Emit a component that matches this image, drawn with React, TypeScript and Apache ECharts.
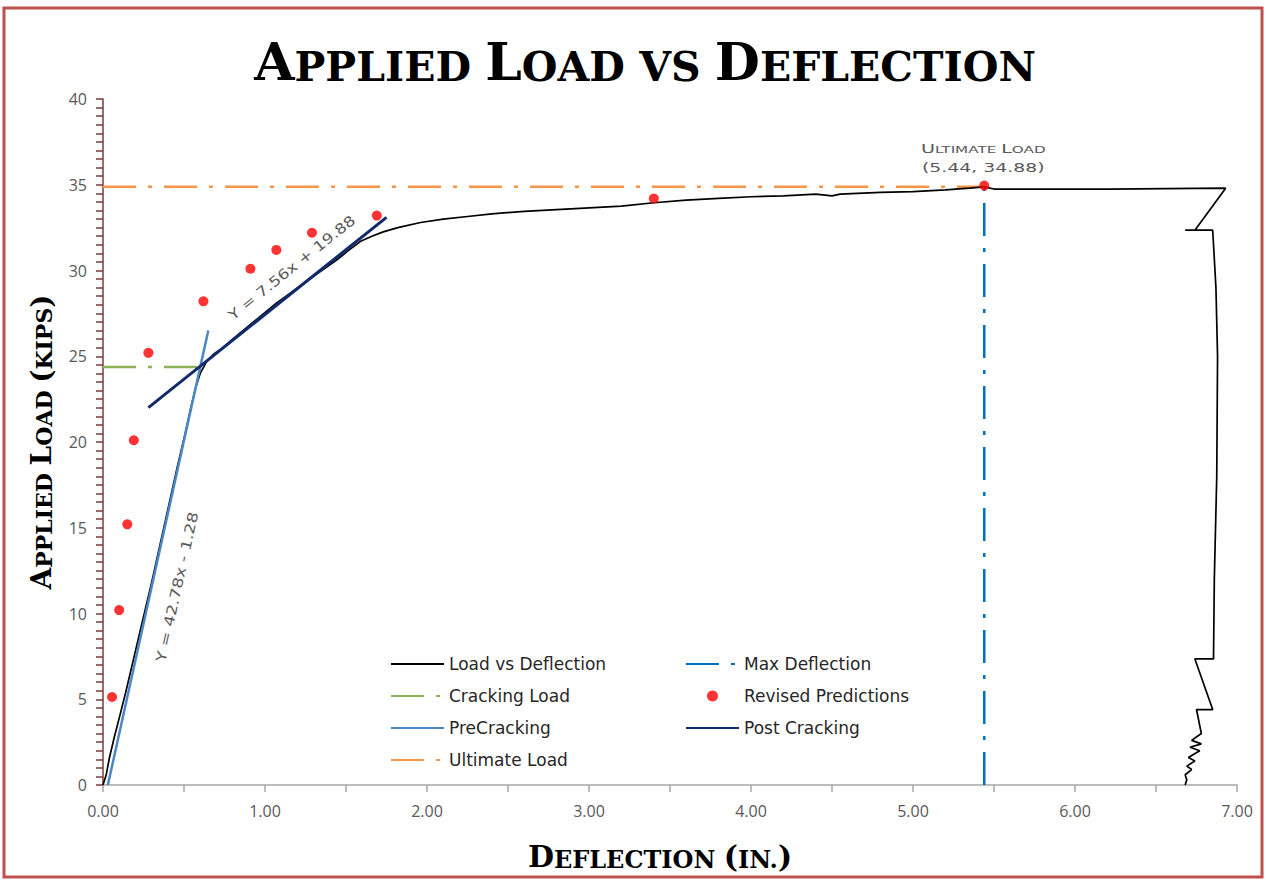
import React, { useEffect, useRef } from "react";
import * as echarts from "echarts";

// ---------- DATA ----------
const loadVsDeflection: [number, number][] = [
  [0, 0], [0.02, 0.6], [0.04, 1.6], [0.07, 2.8], [0.1, 3.9], [0.14, 5.4], [0.18, 7.0],
  [0.22, 8.6], [0.26, 10.2], [0.3, 11.8], [0.34, 13.5], [0.38, 15.2], [0.42, 16.9],
  [0.46, 18.6], [0.5, 20.2], [0.54, 21.9], [0.57, 23.1], [0.6, 24.0], [0.64, 24.7],
  [0.68, 25.1], [0.74, 25.5], [0.8, 26.0], [0.89, 26.7], [0.98, 27.4], [1.07, 28.1],
  [1.16, 28.7], [1.26, 29.4], [1.35, 30.0], [1.44, 30.6], [1.52, 31.2], [1.59, 31.7],
  [1.66, 32.0], [1.73, 32.25], [1.82, 32.5], [1.96, 32.8], [2.1, 33.0], [2.25, 33.15],
  [2.4, 33.3], [2.6, 33.45], [2.8, 33.55], [3.0, 33.65], [3.2, 33.75], [3.4, 33.95],
  [3.6, 34.1], [3.8, 34.2], [4.0, 34.3], [4.2, 34.35], [4.4, 34.45], [4.5, 34.35],
  [4.55, 34.45], [4.8, 34.55], [5.0, 34.6], [5.2, 34.7], [5.35, 34.8], [5.44, 34.88],
  [5.5, 34.75], [6.2, 34.75], [6.93, 34.8], [6.74, 32.35], [6.68, 32.35], [6.85, 32.35],
  [6.87, 29.0], [6.88, 25.0], [6.875, 18.0], [6.86, 12.0], [6.855, 7.35], [6.74, 7.35],
  [6.85, 4.4], [6.75, 4.4], [6.78, 3.0], [6.72, 2.6], [6.78, 2.4], [6.71, 2.2],
  [6.77, 2.0], [6.7, 1.6], [6.74, 1.4], [6.69, 1.1], [6.72, 0.9], [6.68, 0.6],
  [6.69, 0.3], [6.68, 0],
];

const revisedPredictions: [number, number][] = [
  [0.056, 5.13], [0.1, 10.2], [0.15, 15.2], [0.19, 20.1], [0.28, 25.2], [0.62, 28.2],
  [0.91, 30.1], [1.07, 31.2], [1.29, 32.2], [1.69, 33.2], [3.4, 34.2], [5.44, 34.95],
];

const crackingLoad: [number, number][] = [[0, 24.37], [0.58, 24.37]];
const ultimateLoad: [number, number][] = [[0, 34.88], [5.44, 34.88]];
const maxDeflection: [number, number][] = [[5.44, 0], [5.44, 34.88]];
const preCracking: [number, number][] = [[0.03, 0], [0.65, 26.5]];
const postCracking: [number, number][] = [[0.28, 22.0], [1.75, 33.1]];

const xMin = 0, xMax = 7, xStep = 1;
const yMin = 0, yMax = 40, yStep = 5;

const titleText = "Applied Load vs Deflection";
const xTitle = "Deflection (in.)";
const yTitle = "Applied Load (kips)";
const ultimateLabel = ["Ultimate Load", "(5.44, 34.88)"];
const ultimatePoint: [number, number] = [5.44, 34.88];
const eqPost = "Y = 7.56x + 19.88";
const eqPre = "Y = 42.78x - 1.28";
const eqPostPos: [number, number] = [1.167, 30.15];
const eqPrePos: [number, number] = [0.457, 11.55];

const legendLeft = ["Load vs Deflection", "Cracking Load", "PreCracking", "Ultimate Load"];
const legendRight = ["Max Deflection", "Revised Predictions", "Post Cracking"];

// ---------- HELPERS ----------
function smallCaps(t: string, b = "b", s = "s"): string {
  let out = "";
  let cur = "";
  let curType = "";
  const flush = () => {
    if (cur) out += `{${curType}|${cur}}`;
    cur = "";
  };
  for (const ch of t) {
    const isBig = (ch >= "A" && ch <= "Z") || ch === "(" || ch === ")" || (ch >= "0" && ch <= "9");
    const type = isBig ? b : s;
    if (type !== curType) {
      flush();
      curType = type;
    }
    cur += ch.toUpperCase();
  }
  flush();
  return out;
}

const SERIF = "DejaVu Serif";
const SANS = "Open Sans";
const WIDE = "DejaVu Sans";

export default function App() {
  const ref = useRef<HTMLDivElement>(null);
  useEffect(() => {
    document.body.style.margin = "0";
    const chart = echarts.init(ref.current!, null, { renderer: "svg" });
    const dashDot = [33, 12, 4, 12];
    const legendItem = (name: string) =>
      name === "Revised Predictions" ? { name } : { name, itemStyle: { opacity: 0 } };
    const legendBase = {
      orient: "vertical",
      top: 654,
      padding: 0,
      itemWidth: 53,
      itemHeight: 11,
      itemGap: 12,
      textStyle: { fontFamily: WIDE, fontSize: 17, color: "#262626", lineHeight: 20 },
    };
    const option: any = {
      animation: false,
      backgroundColor: "#ffffff",
      grid: { left: 103, right: 30, top: 99, bottom: 97, containLabel: false },
      xAxis: {
        type: "value",
        min: xMin,
        max: xMax,
        interval: xStep,
        name: smallCaps(xTitle),
        nameLocation: "middle",
        nameGap: 54,
        nameTextStyle: {
          padding: [0, 20, 0, 0],
          rich: {
            b: { fontFamily: SERIF, fontWeight: "bold", fontSize: 30, lineHeight: 32, verticalAlign: "bottom", color: "#000" },
            s: { fontFamily: SERIF, fontWeight: "bold", fontSize: 24, lineHeight: 28, verticalAlign: "bottom", color: "#000" },
          },
        },
        axisLine: { show: true, lineStyle: { color: "#A6A6A6", width: 1.5 } },
        axisTick: { show: true, length: 7, lineStyle: { color: "#A6A6A6", width: 1.5 } },
        minorTick: { show: true, splitNumber: 2, length: 7, lineStyle: { color: "#A6A6A6", width: 1.5 } },
        splitLine: { show: false },
        axisLabel: {
          formatter: (v: number) => v.toFixed(2),
          color: "#595959",
          fontFamily: SANS,
          fontSize: 16,
          margin: 18,
        },
      },
      yAxis: {
        type: "value",
        min: yMin,
        max: yMax,
        interval: yStep,
        name: smallCaps(yTitle),
        nameLocation: "middle",
        nameRotate: 90,
        nameGap: 48,
        nameTextStyle: {
          rich: {
            b: { fontFamily: SERIF, fontWeight: "bold", fontSize: 28, lineHeight: 30, verticalAlign: "bottom", color: "#000" },
            s: { fontFamily: SERIF, fontWeight: "bold", fontSize: 22, lineHeight: 26, verticalAlign: "bottom", color: "#000" },
          },
        },
        axisLine: { show: true, lineStyle: { color: "#7B3A3A", width: 1.5 } },
        axisTick: { show: true, length: 7, lineStyle: { color: "#7B3A3A", width: 1.5 } },
        minorTick: { show: true, splitNumber: 10, length: 7, lineStyle: { color: "#7B3A3A", width: 1.5 } },
        splitLine: { show: false },
        axisLabel: { color: "#595959", fontFamily: SANS, fontSize: 16, margin: 16 },
      },
      legend: [
        { ...legendBase, left: 390, data: legendLeft.map(legendItem) },
        { ...legendBase, left: 685, data: legendRight.map(legendItem) },
      ],
      series: [
        {
          name: "Ultimate Load",
          type: "line",
          data: ultimateLoad,
          symbol: "none",
          lineStyle: { color: "#F79646", width: 2.5, type: dashDot },
          itemStyle: { color: "#F79646" },
          z: 2,
        },
        {
          name: "Cracking Load",
          type: "line",
          data: crackingLoad,
          symbol: "none",
          lineStyle: { color: "#8DB255", width: 2.5, type: dashDot },
          itemStyle: { color: "#8DB255" },
          z: 2,
        },
        {
          name: "Max Deflection",
          type: "line",
          data: maxDeflection,
          symbol: "none",
          lineStyle: { color: "#0070C0", width: 2.5, type: dashDot },
          itemStyle: { color: "#0070C0" },
          z: 2,
        },
        {
          name: "Load vs Deflection",
          type: "line",
          data: loadVsDeflection,
          symbol: "none",
          lineStyle: { color: "#000000", width: 1.7 },
          itemStyle: { color: "#000000" },
          z: 3,
        },
        {
          name: "PreCracking",
          type: "line",
          data: preCracking,
          symbol: "none",
          lineStyle: { color: "#4A86C8", width: 2.5 },
          itemStyle: { color: "#4A86C8" },
          z: 4,
        },
        {
          name: "Post Cracking",
          type: "line",
          data: postCracking,
          symbol: "none",
          lineStyle: { color: "#112A6A", width: 3 },
          itemStyle: { color: "#112A6A" },
          z: 4,
        },
        {
          name: "Revised Predictions",
          type: "scatter",
          data: revisedPredictions,
          symbol: "circle",
          symbolSize: 10,
          itemStyle: { color: "#FF0000" },
          z: 5,
        },
      ],
    };
    chart.setOption(option);

    const p1 = chart.convertToPixel({ gridIndex: 0 }, eqPostPos) as number[];
    const p2 = chart.convertToPixel({ gridIndex: 0 }, eqPrePos) as number[];
    const pu = chart.convertToPixel({ gridIndex: 0 }, ultimatePoint) as number[];
    const titleRich = {
      b: { fontFamily: SERIF, fontWeight: "bold", fontSize: 52, lineHeight: 56, verticalAlign: "bottom", fill: "#000", color: "#000" },
      s: { fontFamily: SERIF, fontWeight: "bold", fontSize: 41, lineHeight: 48, verticalAlign: "bottom", fill: "#000", color: "#000" },
    };
    const annRich = {
      ub: { fontFamily: WIDE, fontSize: 12, lineHeight: 14, verticalAlign: "bottom", fill: "#595959", color: "#595959" },
      us: { fontFamily: WIDE, fontSize: 9.5, lineHeight: 12.5, verticalAlign: "bottom", fill: "#595959", color: "#595959" },
    };
    const eqStyle = {
      font: `14px "${WIDE}"`,
      fill: "#595959",
      align: "center",
      verticalAlign: "middle",
      textAlign: "center",
      textVerticalAlign: "middle",
    };
    chart.setOption({
      graphic: [
        {
          id: "border",
          type: "rect",
          shape: { x: 4, y: 8, width: 1258, height: 869 },
          style: { fill: "none", stroke: "#C0504D", lineWidth: 3 },
          silent: true,
        },
        {
          id: "title",
          type: "text",
          x: 645,
          y: 59,
          style: {
            text: smallCaps(titleText),
            rich: titleRich,
            align: "center",
            verticalAlign: "middle",
            textAlign: "center",
            textVerticalAlign: "middle",
          },
        },
        {
          id: "ann1",
          type: "text",
          x: pu[0] - 1,
          y: pu[1] - 39,
          scaleX: 1.6,
          style: {
            text: smallCaps(ultimateLabel[0], "ub", "us"),
            rich: annRich,
            align: "center",
            verticalAlign: "middle",
            textAlign: "center",
            textVerticalAlign: "middle",
          },
        },
        {
          id: "ann2",
          type: "text",
          x: pu[0] - 1,
          y: pu[1] - 19,
          scaleX: 1.45,
          style: { ...eqStyle, font: `13px "${WIDE}"`, text: ultimateLabel[1] },
        },
        {
          id: "eqPost",
          type: "text",
          x: p1[0],
          y: p1[1],
          rotation: (38.7 * Math.PI) / 180,
          scaleX: 1.22,
          style: { ...eqStyle, text: eqPost },
        },
        {
          id: "eqPre",
          type: "text",
          x: p2[0],
          y: p2[1],
          rotation: (77.5 * Math.PI) / 180,
          scaleX: 1.25,
          style: { ...eqStyle, text: eqPre },
        },
      ],
    });
    return () => chart.dispose();
  }, []);
  return <div ref={ref} style={{ width: 1267, height: 882, position: "absolute", left: 0, top: 0 }} />;
}
